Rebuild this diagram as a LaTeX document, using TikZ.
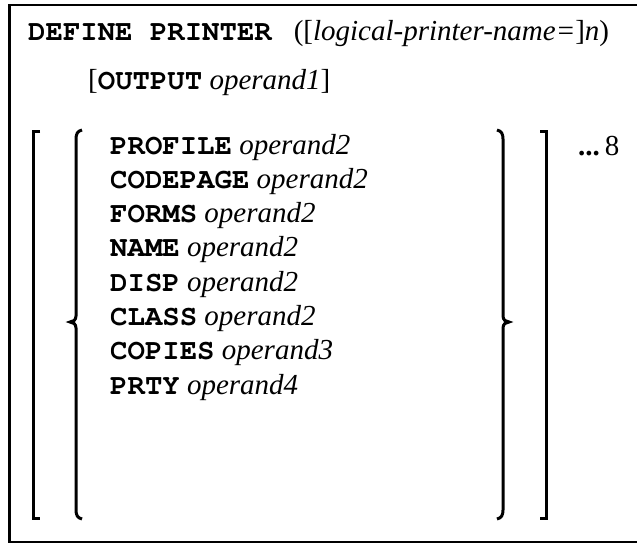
\documentclass[tikz,border=0pt]{standalone}
\usepackage{fontspec}
\setmainfont{Liberation Serif}
\setmonofont{TeX Gyre Cursor}
\newcommand{\kwd}[1]{{\ttfamily\bfseries #1}}
\tikzset{
  txt/.style={anchor=base west, inner sep=0pt, font=\fontsize{29}{34}\selectfont},
  brk/.style={line width=3pt, line join=miter},
  frame/.style={line width=2.5pt}
}
\begin{document}
\begin{tikzpicture}[x=1pt,y=-1pt]
\useasboundingbox (0,0) rectangle (637,544);
\begin{scope}
\clip (0,0) rectangle (637,544);
\draw[frame] (9.5,5) rectangle (660,542);
\end{scope}
% header lines
\node[txt] (def) at (28,40) {\kwd{DEFINE PRINTER}\hspace{22pt}([\textit{logical-printer-name=}]\textit{n})};
\node[txt] (out) at (88,89) {[\kwd{OUTPUT} \textit{operand1}]};
% options
\node[txt] (i1) at (110,154.0) {\kwd{PROFILE} \textit{operand2}};
\node[txt] (i2) at (110,188.3) {\kwd{CODEPAGE} \textit{operand2}};
\node[txt] (i3) at (110,222.6) {\kwd{FORMS} \textit{operand2}};
\node[txt] (i4) at (110,256.9) {\kwd{NAME} \textit{operand2}};
\node[txt] (i5) at (110,291.2) {\kwd{DISP} \textit{operand2}};
\node[txt] (i6) at (110,325.5) {\kwd{CLASS} \textit{operand2}};
\node[txt] (i7) at (110,359.8) {\kwd{COPIES} \textit{operand3}};
\node[txt] (i8) at (110,394.1) {\kwd{PRTY} \textit{operand4}};
\node[txt] (rep) at (578,155) {\textbf{...}\,8};
% outer brackets
\draw[brk] (40,131) -- (33,131) -- (33,518) -- (40,518);
\draw[brk] (540,131) -- (546,131) -- (546,518) -- (540,518);
% braces
\draw[brk] (82,130) .. controls (77.5,131) and (76,134) .. (76,139) -- (76,316)
  .. controls (76,320) and (73,322) .. (70,322)
  .. controls (73,322) and (76,324) .. (76,328) -- (76,510)
  .. controls (76,515) and (77.5,518) .. (82,519);
\draw[brk] (497,130) .. controls (501.5,131) and (503,134) .. (503,139) -- (503,316)
  .. controls (503,320) and (506,322) .. (509,322)
  .. controls (506,322) and (503,324) .. (503,328) -- (503,510)
  .. controls (503,515) and (501.5,518) .. (497,519);
\end{tikzpicture}
\end{document}
